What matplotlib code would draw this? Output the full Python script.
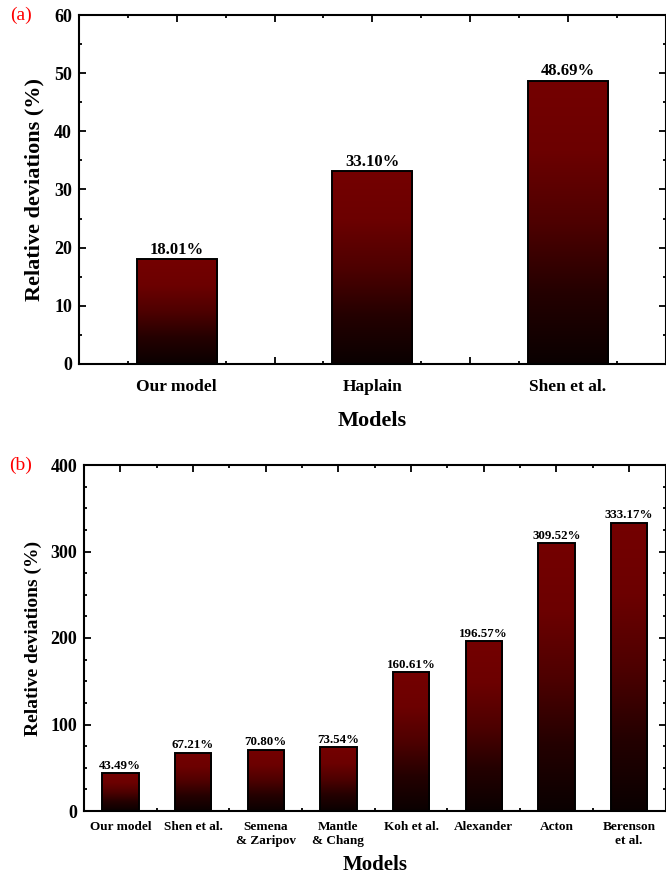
import matplotlib
matplotlib.use("Agg")
import matplotlib.pyplot as plt
import numpy as np
from matplotlib.colors import LinearSegmentedColormap
from matplotlib.ticker import FixedLocator, MultipleLocator

plt.rcParams['font.family'] = ['Liberation Serif', 'DejaVu Serif']
plt.rcParams['font.weight'] = 'bold'

# data
models_a = ["Our model", "Haplain", "Shen et al."]
dev_a = [18.01, 33.10, 48.69]
models_b = ["Our model", "Shen et al.", "Semena\n& Zaripov", "Mantle\n& Chang",
            "Koh et al.", "Alexander", "Acton", "Berenson\net al."]
dev_b = [43.49, 67.21, 70.80, 73.54, 160.61, 196.57, 309.52, 333.17]

# near black at the bottom -> dark red towards the top of each bar
grad = LinearSegmentedColormap.from_list(
    "redblack", [(0.0, "#0a0000"), (0.25, "#240000"), (0.5, "#4e0000"),
                 (0.75, "#6c0000"), (1.0, "#740000")])


def gradient_bars(ax, x, h, width):
    bars = ax.bar(x, h, width=width, facecolor="none", edgecolor="black",
                  linewidth=1.4, zorder=3)
    g = np.linspace(0, 1, 256).reshape(-1, 1)
    for b in bars:
        x0, w, hh = b.get_x(), b.get_width(), b.get_height()
        im = ax.imshow(g, cmap=grad, origin="lower", aspect="auto",
                       extent=[x0, x0 + w, 0, hh], zorder=2)
        im.set_clip_path(b)
    return bars


def style_axes(ax):
    for s in ax.spines.values():
        s.set_linewidth(1.5)
    ax.tick_params(which="both", direction="in", top=True, right=True, width=1.3)
    ax.tick_params(which="major", length=5)
    ax.tick_params(which="minor", length=2.5)


fig = plt.figure(figsize=(6.66, 8.75), dpi=100)

# ---- panel (a)
ax1 = fig.add_axes([79/666, 1-364/875, 586.5/666, 349/875])
bars = gradient_bars(ax1, np.arange(len(models_a)), dev_a, 0.41)
for b, v in zip(bars, dev_a):
    ax1.annotate(f"{v:.2f}%", (b.get_x() + b.get_width()/2, v), xytext=(0, 1),
                 textcoords="offset points", ha="center", va="bottom",
                 fontsize=12, fontweight="bold")
ax1.set_xlim(-0.5, 2.5)
ax1.set_ylim(0, 60)
ticks_a = np.arange(-0.5, 2.51, 0.5)
ax1.xaxis.set_major_locator(FixedLocator(ticks_a))
ax1.set_xticklabels([models_a[int(t)] if t == int(t) and t >= 0 else "" for t in ticks_a])
ax1.xaxis.set_minor_locator(MultipleLocator(0.25))
ax1.yaxis.set_major_locator(MultipleLocator(10))
ax1.yaxis.set_minor_locator(MultipleLocator(5))
style_axes(ax1)
ax1.tick_params(axis="x", labelsize=12.5, pad=11)
ax1.tick_params(axis="y", labelsize=13, pad=5)
ax1.set_xlabel("Models", fontsize=16, fontweight="bold", labelpad=11)
ax1.set_ylabel("Relative deviations (%)", fontsize=16, fontweight="bold", labelpad=7)
fig.text(10/666, 1-15/875, "(a)", color="red", fontsize=14, fontweight="normal",
         va="center", ha="left")

# ---- panel (b)
ax2 = fig.add_axes([84/666, 1-811/875, 581.5/666, 346/875])
bars = gradient_bars(ax2, np.arange(len(models_b)), dev_b, 0.5)
for b, v in zip(bars, dev_b):
    ax2.annotate(f"{v:.2f}%", (b.get_x() + b.get_width()/2, v), xytext=(0, 1),
                 textcoords="offset points", ha="center", va="bottom",
                 fontsize=9.3, fontweight="bold")
ax2.set_xlim(-0.5, 7.5)
ax2.set_ylim(0, 400)
ax2.set_xticks(np.arange(len(models_b)))
ax2.set_xticklabels(models_b)
ax2.xaxis.set_minor_locator(FixedLocator(np.arange(0.5, 7.0, 1.0)))
ax2.yaxis.set_major_locator(MultipleLocator(100))
ax2.yaxis.set_minor_locator(MultipleLocator(25))
style_axes(ax2)
ax2.tick_params(axis="x", labelsize=9.5, pad=7)
ax2.tick_params(axis="y", labelsize=13, pad=5)
ax2.set_xlabel("Models", fontsize=15, fontweight="bold", labelpad=6)
ax2.set_ylabel("Relative deviations (%)", fontsize=14, fontweight="bold", labelpad=6)
fig.text(9/666, 1-465/875, "(b)", color="red", fontsize=14, fontweight="normal",
         va="center", ha="left")

fig.savefig("out.png", dpi=100)
